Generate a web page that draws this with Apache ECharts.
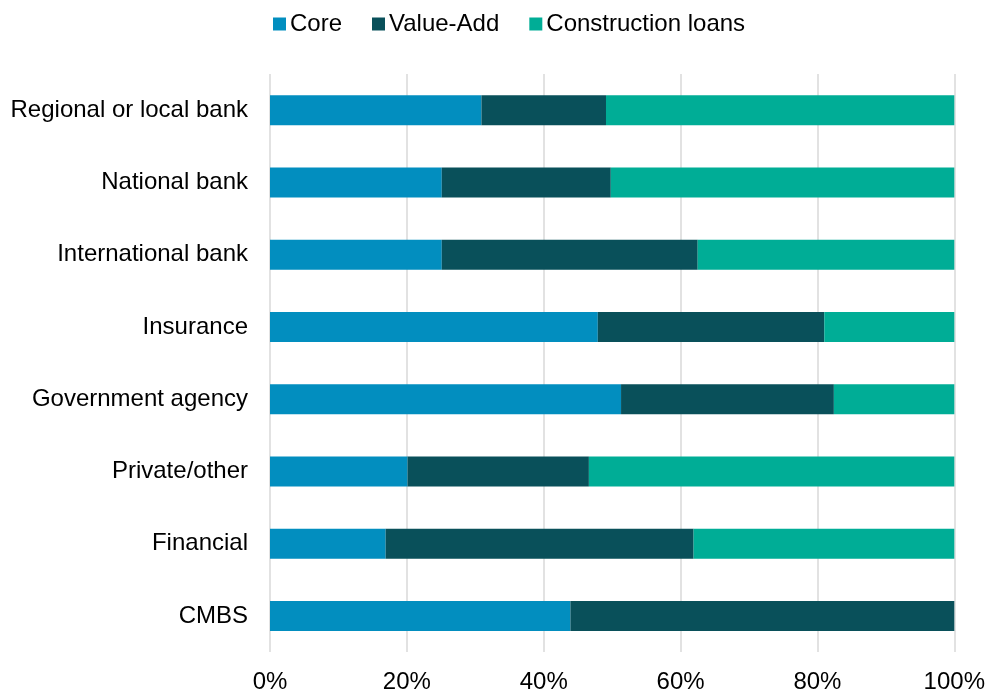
<!DOCTYPE html>
<html>
<head>
<meta charset="utf-8">
<title>Lending mix by lender type</title>
<script src="https://cdn.jsdelivr.net/npm/echarts@6/dist/echarts.min.js"></script>
<style>
  html, body { margin: 0; padding: 0; background: #ffffff; }
  #chart { width: 988px; height: 694px; }
</style>
</head>
<body>
<div id="chart"></div>
<script>
// Lender types, top to bottom
const categories = [
  'Regional or local bank',
  'National bank',
  'International bank',
  'Insurance',
  'Government agency',
  'Private/other',
  'Financial',
  'CMBS'
];

// Share of each loan type (%)
const core = [30.9, 25.1, 25.1, 47.9, 51.3, 20.1, 16.9, 43.9];
const valueAdd = [18.2, 24.7, 37.4, 33.1, 31.1, 26.5, 45.0, 56.1];
const construction = [50.9, 50.2, 37.5, 19.0, 17.6, 53.4, 38.1, 0];

const seriesNames = ['Core', 'Value-Add', 'Construction loans'];
const seriesColors = ['#028EBF', '#09505A', '#00AD96'];
const xTicks = [0, 20, 40, 60, 80, 100];

const FONT = '"Liberation Sans", Arial, sans-serif';
const FONT_SIZE = 24;

const chart = echarts.init(document.getElementById('chart'), null, { renderer: 'canvas' });

const makeSeries = (name, data, color) => ({
  name,
  type: 'bar',
  stack: 'total',
  data,
  barWidth: 30,
  itemStyle: { color },
  emphasis: { disabled: true }
});

chart.setOption({
  animation: false,
  backgroundColor: '#ffffff',
  textStyle: { fontFamily: FONT, color: '#000000' },
  legend: {
    left: 268,
    top: 7,
    itemWidth: 13,
    itemHeight: 13,
    itemGap: 30,
    icon: 'rect',
    data: seriesNames,
    textStyle: { fontFamily: FONT, fontSize: FONT_SIZE, color: '#000000', padding: [0, 0, 0, -1] }
  },
  grid: {
    left: 270,
    right: 33,
    top: 74,
    bottom: 42,
    containLabel: false
  },
  xAxis: {
    type: 'value',
    min: xTicks[0],
    max: xTicks[xTicks.length - 1],
    interval: xTicks[1] - xTicks[0],
    axisLine: { show: false },
    axisTick: { show: false },
    splitLine: { show: true, lineStyle: { color: '#d9d9d9', width: 1.5 } },
    axisLabel: {
      margin: 18,
      fontFamily: FONT,
      fontSize: FONT_SIZE,
      color: '#000000',
      formatter: v => v + '%'
    }
  },
  yAxis: {
    type: 'category',
    inverse: true,
    data: categories,
    axisLine: { show: false },
    axisTick: { show: false },
    axisLabel: {
      margin: 22,
      fontFamily: FONT,
      fontSize: FONT_SIZE,
      color: '#000000'
    }
  },
  series: [
    makeSeries(seriesNames[0], core, seriesColors[0]),
    makeSeries(seriesNames[1], valueAdd, seriesColors[1]),
    makeSeries(seriesNames[2], construction, seriesColors[2])
  ]
});
</script>
</body>
</html>
